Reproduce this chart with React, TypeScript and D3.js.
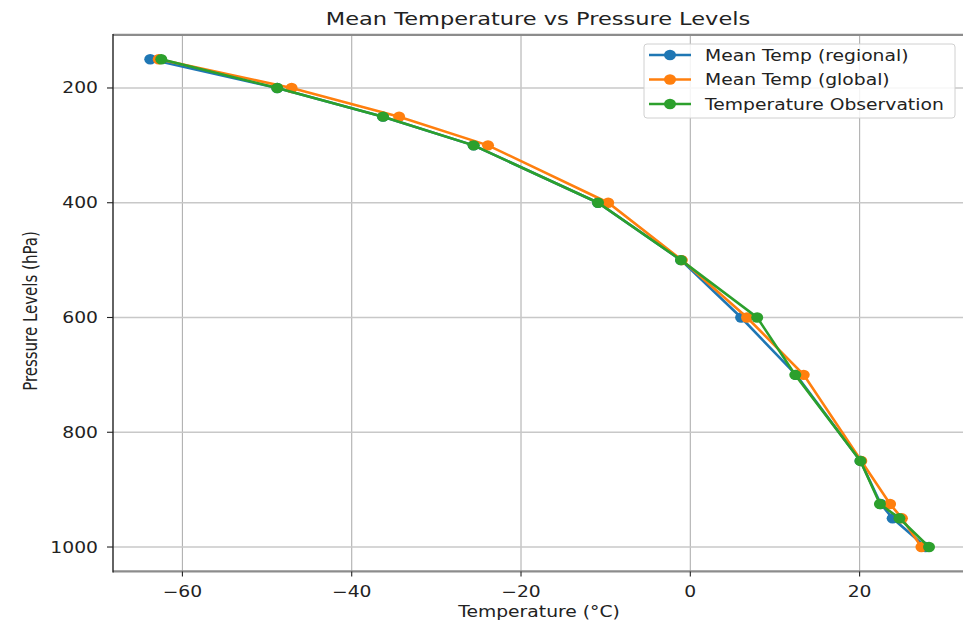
import React from "react";
import * as d3 from "d3";

const pressureLevels = [150, 200, 250, 300, 400, 500, 600, 700, 850, 925, 950, 1000];
const meanTempRegional = [-63.8, -48.8, -36.3, -25.6, -10.9, -1.1, 6.0, 12.5, 20.1, 22.5, 23.9, 27.8];
const meanTempGlobal = [-62.8, -47.1, -34.4, -23.9, -9.7, -1.0, 6.7, 13.4, 20.2, 23.6, 25.0, 27.3];
const tempObservation = [-62.5, -48.8, -36.3, -25.6, -10.9, -1.1, 7.9, 12.4, 20.1, 22.4, 24.7, 28.2];

const seriesNames = ["Mean Temp (regional)", "Mean Temp (global)", "Temperature Observation"];
const seriesColors = ["#1f77b4", "#ff7f0e", "#2ca02c"];
const xTicks = [-60, -40, -20, 0, 20];
const yTicks = [200, 400, 600, 800, 1000];

const W = 963;
const H = 624;
const SX = 1.25; // horizontal stretch of the reference image
const FONT = "DejaVu Sans, sans-serif";

const left = 113;
const top = 34.9;
const bottom = 571.4;
const x = d3.scaleLinear().domain([-68.2, 33]).range([left, left + 101.2 * 8.465]);
const y = d3.scaleLinear().domain([107.5, 1042.5]).range([top, bottom]);
const right = x(33);

function T({ x: tx, y: ty, size, anchor = "middle", children, fill = "#222" }: any) {
  return (
    <text
      transform={`translate(${tx},${ty}) scale(${SX},1)`}
      fontSize={size}
      fontFamily={FONT}
      textAnchor={anchor}
      fill={fill}
    >
      {children}
    </text>
  );
}

export default function App() {
  const allSeries = [meanTempRegional, meanTempGlobal, tempObservation];
  const line = d3
    .line<number>()
    .x((d) => x(d))
    .y((_, i) => y(pressureLevels[i]));
  const fmt = (v: number) => (v < 0 ? "\u2212" + Math.abs(v) : String(v));
  const legendRows = [55, 79.5, 104];

  return (
    <svg width={W} height={H} style={{ position: "absolute", left: 0, top: 0, background: "#fff" }}>
      <rect x={0} y={0} width={W} height={H} fill="#fff" />
      <defs>
        <clipPath id="plot">
          <rect x={left} y={top} width={right - left} height={bottom - top} />
        </clipPath>
      </defs>
      {/* grid */}
      {xTicks.map((t) => (
        <line key={"gx" + t} x1={x(t)} x2={x(t)} y1={top} y2={bottom} stroke="#b0b0b0" strokeWidth={1.1} />
      ))}
      {yTicks.map((t) => (
        <line key={"gy" + t} x1={left} x2={right} y1={y(t)} y2={y(t)} stroke="#c8c8c8" strokeWidth={1.6} />
      ))}
      {/* series */}
      <g clipPath="url(#plot)">
        {allSeries.map((s, si) => (
          <g key={"s" + si}>
            <path d={line(s) || ""} fill="none" stroke={seriesColors[si]} strokeWidth={2.6} />
            {s.map((v, i) => (
              <ellipse key={i} cx={x(v)} cy={y(pressureLevels[i])} rx={6} ry={5.2} fill={seriesColors[si]} />
            ))}
          </g>
        ))}
      </g>
      {/* spines */}
      <line x1={left} x2={right} y1={top} y2={top} stroke="#8c8c8c" strokeWidth={2.4} />
      <line x1={left} x2={right} y1={bottom} y2={bottom} stroke="#8c8c8c" strokeWidth={2.4} />
      <line x1={left} x2={left} y1={top - 1} y2={bottom + 1} stroke="#222" strokeWidth={1.4} />
      {/* x ticks */}
      {xTicks.map((t) => (
        <g key={"xt" + t}>
          <line x1={x(t)} x2={x(t)} y1={bottom} y2={bottom + 5} stroke="#222" strokeWidth={1.1} />
          <T x={x(t)} y={597} size={15}>
            {fmt(t)}
          </T>
        </g>
      ))}
      {yTicks.map((t) => (
        <g key={"yt" + t}>
          <line x1={left - 6} x2={left} y1={y(t)} y2={y(t)} stroke="#222" strokeWidth={1.1} />
          <T x={98} y={y(t) + 5.5} size={15} anchor="end">
            {fmt(t)}
          </T>
        </g>
      ))}
      {/* labels */}
      <T x={538} y={25} size={18}>
        Mean Temperature vs Pressure Levels
      </T>
      <T x={539} y={617} size={15}>
        Temperature (°C)
      </T>
      <g transform={`translate(37,311) scale(1.25,1) rotate(-90)`}>
        <text fontSize={15} fontFamily={FONT} textAnchor="middle" fill="#222">
          Pressure Levels (hPa)
        </text>
      </g>
      {/* legend */}
      <rect x={644} y={44} width={311} height={74} rx={3} fill="#fff" fillOpacity={0.85} stroke="#d0d0d0" strokeWidth={1} />
      {seriesNames.map((n, i) => (
        <g key={"lg" + i}>
          <line x1={649} x2={691} y1={legendRows[i]} y2={legendRows[i]} stroke={seriesColors[i]} strokeWidth={2.6} />
          <ellipse cx={670} cy={legendRows[i]} rx={6} ry={5.2} fill={seriesColors[i]} />
          <T x={705} y={legendRows[i] + 5.5} size={15} anchor="start">
            {n}
          </T>
        </g>
      ))}
    </svg>
  );
}
